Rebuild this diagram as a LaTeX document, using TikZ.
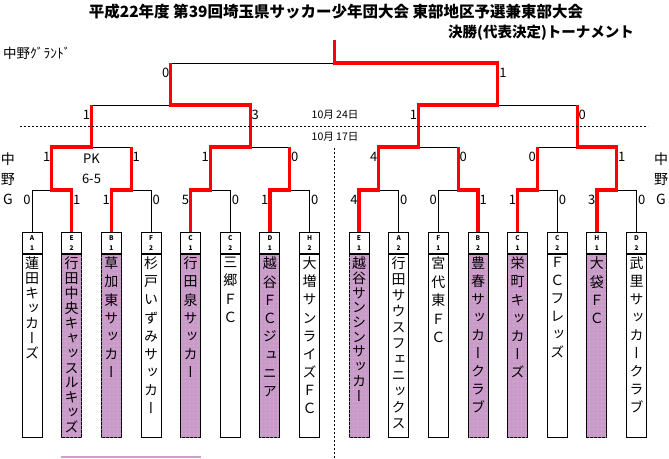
\documentclass[tikz,border=0pt]{standalone}
\usepackage{fontspec}
\usepackage{tikz}
\usetikzlibrary{positioning,patterns.meta}

\setmainfont{Noto Sans CJK JP}
\newfontfamily\tatefont[RawFeature={+vert}]{Noto Sans CJK JP}

\definecolor{winred}{HTML}{FF0000}
\definecolor{winpurple}{HTML}{CC99CC}
\definecolor{dotgreen}{HTML}{B8D8A8}
\definecolor{footpurple}{HTML}{C8A2C8}

\tikzdeclarepattern{name=greendots,type=uncolored,
  bounding box={(0pt,0pt) and (4pt,4pt)},tile size={(4pt,4pt)},
  code={\pgfpathrectangle{\pgfpoint{1.5pt}{1.5pt}}{\pgfpoint{1pt}{1pt}}\pgfusepath{fill}}}

% team names, one character under the other
\def\tateloop#1{\ifx#1\relax\else\hbox to 18pt{\hss#1\hss}\expandafter\tateloop\fi}
\newcommand\tate[2][18.2pt]{\vbox to 180pt{\tatefont\fontsize{14}{14}\selectfont
  \baselineskip=#1\lineskiplimit=-100pt\relax\vskip1pt\tateloop#2\relax\vss}}

\begin{document}
\begin{tikzpicture}[x=1pt,y=-1pt,
  every node/.style={inner sep=1pt},
  teamhead/.style={draw,fill=white,line width=1pt,anchor=north,minimum width=20pt,
    minimum height=21pt,inner sep=0pt,align=center,font=\fontsize{6.5}{10}\selectfont\bfseries},
  teamname/.style={draw,fill=white,line width=1pt,inner xsep=1pt,inner ysep=1.5pt},
  won/.style={teamname,fill=winpurple,preaction={fill=winpurple},
    postaction={pattern={greendots},pattern color=dotgreen}},
  score/.style={font=\fontsize{13}{13}\selectfont},
  sl/.style={score,pos=0.38,left=0pt},
  sr/.style={score,pos=0.38,right=0pt},
  bar/.style={line width=1pt},
  win/.style={winred,line width=3.2pt},
  divider/.style={line width=1pt,dash pattern=on 2pt off 2pt},
  date/.style={font=\fontsize{10.5}{12}\selectfont}]

	\useasboundingbox (0,0) rectangle (669,458);

	% Draw headings
	\node[font=\fontsize{15.5}{16}\selectfont\bfseries] (title) at (336,12) {平成22年度 第39回埼玉県サッカー少年団大会 東部地区予選兼東部大会};
	\node[font=\fontsize{14.5}{15}\selectfont\bfseries] (subtitle) at (541,33) {決勝(代表決定)トーナメント};
	\node[font=\fontsize{13.5}{14}\selectfont,anchor=west] (ground) at (2,53) {中野ｸﾞﾗﾝﾄﾞ};
	\node[align=center,font=\fontsize{14}{20}\selectfont] (gleft) at (8,179) {中\\野\\G};
	\node[align=center,font=\fontsize{14}{20}\selectfont] (gright) at (661,179) {中\\野\\G};

	% Draw team boxes, left half
	\node[teamhead] (h1) at (32,232) {A\\1};
	\node[teamname,below=0pt of h1] (n1) {\tate[15pt]{蓮田キッカーズ}};
	\node[teamhead] (h2) at (71.7,232) {E\\2};
	\node[won,below=0pt of h2] (n2) {\tate[14.9pt]{行田中央キャッスルキッズ}};
	\node[teamhead] (h3) at (111.3,232) {B\\1};
	\node[won,below=0pt of h3] (n3) {\tate{草加東サッカー}};
	\node[teamhead] (h4) at (151,232) {F\\2};
	\node[teamname,below=0pt of h4] (n4) {\tate[18.1pt]{杉戸いずみサッカー}};
	\node[teamhead] (h5) at (190.6,232) {C\\1};
	\node[won,below=0pt of h5] (n5) {\tate{行田泉サッカー}};
	\node[teamhead] (h6) at (230.3,232) {C\\2};
	\node[teamname,below=0pt of h6] (n6) {\tate[18.3pt]{三郷ＦＣ}};
	\node[teamhead] (h7) at (269.9,232) {D\\1};
	\node[won,below=0pt of h7] (n7) {\tate[18.3pt]{越谷ＦＣジュニア}};
	\node[teamhead] (h8) at (309.6,232) {H\\2};
	\node[teamname,below=0pt of h8] (n8) {\tate[18.1pt]{大増サンライズＦＣ}};

	% Draw team boxes, right half
	\node[teamhead] (h9) at (359,232) {E\\1};
	\node[won,below=0pt of h9] (n9) {\tate[14.7pt]{越谷サンシンサッカー}};
	\node[teamhead] (h10) at (398.7,232) {A\\2};
	\node[teamname,below=0pt of h10] (n10) {\tate[16pt]{行田サウスフェニックス}};
	\node[teamhead] (h11) at (438.3,232) {F\\1};
	\node[teamname,below=0pt of h11] (n11) {\tate[18.5pt]{宮代東ＦＣ}};
	\node[teamhead] (h12) at (478,232) {B\\2};
	\node[won,below=0pt of h12] (n12) {\tate[18pt]{豊春サッカークラブ}};
	\node[teamhead] (h13) at (517.6,232) {C\\1};
	\node[won,below=0pt of h13] (n13) {\tate{栄町キッカーズ}};
	\node[teamhead] (h14) at (557.3,232) {C\\2};
	\node[teamname,below=0pt of h14] (n14) {\tate[18pt]{ＦＣフレッズ}};
	\node[teamhead] (h15) at (596.9,232) {H\\1};
	\node[won,below=0pt of h15] (n15) {\tate[18.3pt]{大袋ＦＣ}};
	\node[teamhead] (h16) at (636.6,232) {D\\2};
	\node[teamname,below=0pt of h16] (n16) {\tate[18pt]{武里サッカークラブ}};

	% Match points of the bracket
	\coordinate (m1) at (51.8,190);
	\coordinate (m2) at (131.1,190);
	\coordinate (m3) at (210.4,190);
	\coordinate (m4) at (289.7,190);
	\coordinate (m5) at (378.8,190);
	\coordinate (m6) at (458.1,190);
	\coordinate (m7) at (537.4,190);
	\coordinate (m8) at (616.7,190);
	\coordinate (q1) at (91.5,147);
	\coordinate (q2) at (250.1,147);
	\coordinate (q3) at (418.5,147);
	\coordinate (q4) at (577.1,147);
	\coordinate (s1) at (170.8,105);
	\coordinate (s2) at (497.8,105);
	\coordinate (f) at (334.3,63);
	\coordinate (top) at (334.3,40);

	% Draw the bracket with the scores
	\draw[bar] (h1.north) |- node[sl] {0} (m1);
	\draw[bar] (h2.north) |- node[sr] {1} (m1);
	\draw[bar] (h3.north) |- node[sl] {1} (m2);
	\draw[bar] (h4.north) |- node[sr] {0} (m2);
	\draw[bar] (h5.north) |- node[sl] {5} (m3);
	\draw[bar] (h6.north) |- node[sr] {0} (m3);
	\draw[bar] (h7.north) |- node[sl] {1} (m4);
	\draw[bar] (h8.north) |- node[sr] {0} (m4);
	\draw[bar] (h9.north) |- node[sl] {4} (m5);
	\draw[bar] (h10.north) |- node[sr] {0} (m5);
	\draw[bar] (h11.north) |- node[sl] {0} (m6);
	\draw[bar] (h12.north) |- node[sr] {1} (m6);
	\draw[bar] (h13.north) |- node[sl] {1} (m7);
	\draw[bar] (h14.north) |- node[sr] {0} (m7);
	\draw[bar] (h15.north) |- node[sl] {3} (m8);
	\draw[bar] (h16.north) |- node[sr] {0} (m8);
	\draw[bar] (m1) |- node[sl] {1} (q1);
	\draw[bar] (m2) |- node[sr] {1} (q1);
	\draw[bar] (m3) |- node[sl] {1} (q2);
	\draw[bar] (m4) |- node[sr] {0} (q2);
	\draw[bar] (m5) |- node[sl] {4} (q3);
	\draw[bar] (m6) |- node[sr] {0} (q3);
	\draw[bar] (m7) |- node[sl] {0} (q4);
	\draw[bar] (m8) |- node[sr] {1} (q4);
	\draw[bar] (q1) |- node[sl] {1} (s1);
	\draw[bar] (q2) |- node[sr] {3} (s1);
	\draw[bar] (q3) |- node[sl] {1} (s2);
	\draw[bar] (q4) |- node[sr] {0} (s2);
	\draw[bar] (s1) |- node[sl] {0} (f);
	\draw[bar] (s2) |- node[sr] {1} (f);
	\node[score] (pk) at (91.5,159) {PK};
	\node[score] (pkres) at (91.5,179) {6-5};

	% Draw the winners' way in red
	\draw[win] (h9.north) |- (m5) |- (q3) |- (s2) |- (f) -- (top);
	\draw[win] (h5.north) |- (m3) |- (q2) |- (s1) -- (s1 |- f);
	\draw[win] (h2.north) |- (m1) |- (q1) -- (q1 |- s1);
	\draw[win] (h15.north) |- (m8) |- (q4) -- (q4 |- s2);
	\draw[win] (h3.north) |- (m2) -- (m2 |- q1);
	\draw[win] (h7.north) |- (m4) -- (m4 |- q2);
	\draw[win] (h12.north) |- (m6) -- (m6 |- q3);
	\draw[win] (h13.north) |- (m7) -- (m7 |- q4);

	% Draw the dates and the dividers
	\draw[divider] (20,126) -- (648,126);
	\draw[divider] (334.3,148) -- (334.3,458);
	\node[date] (day24) at (335,115) {10月 24日};
	\node[date] (day17) at (335,137) {10月 17日};
	\draw[footpurple,line width=1.2pt] (61,457) -- (201,457);

\end{tikzpicture}
\end{document}
